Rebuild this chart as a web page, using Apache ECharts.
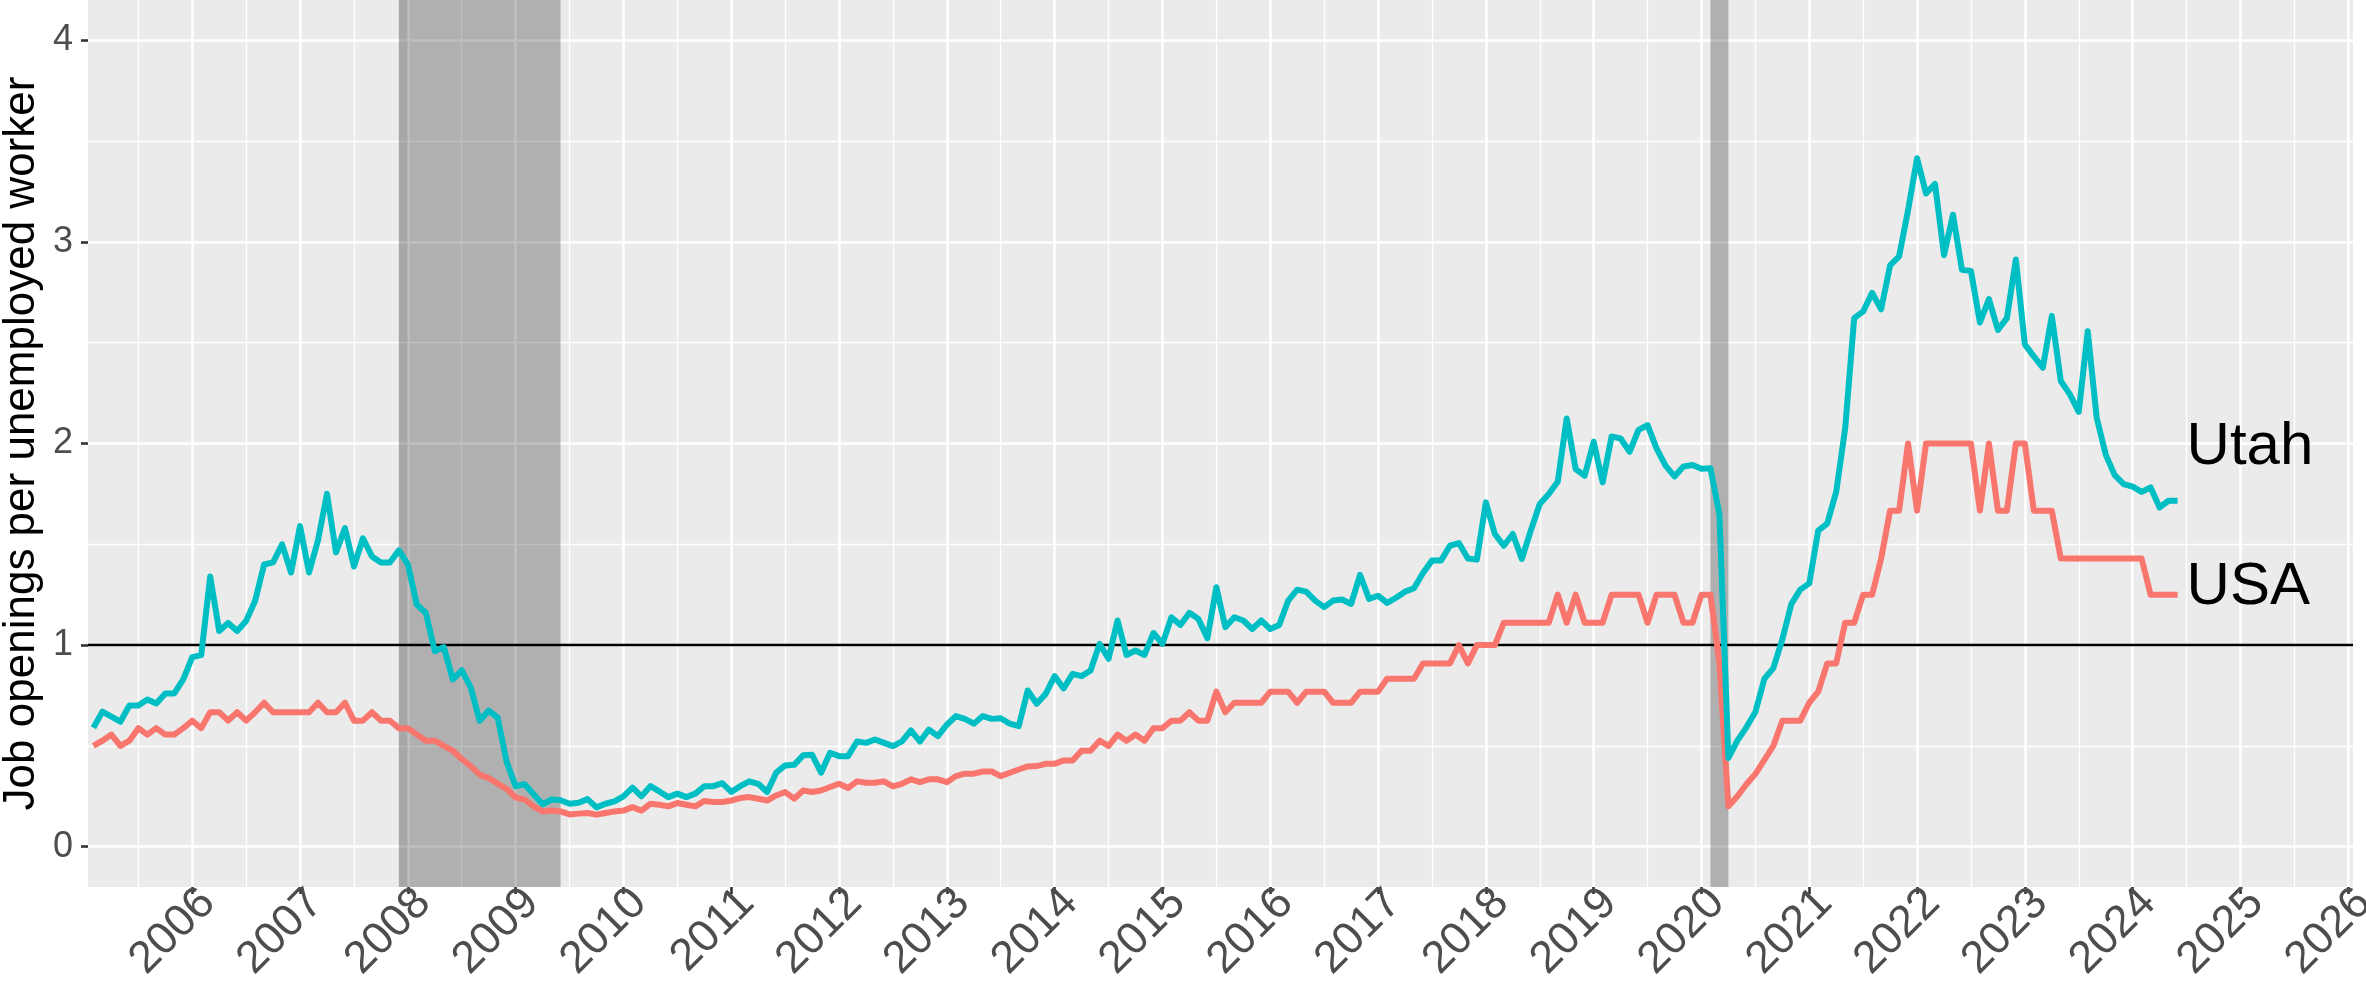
<!DOCTYPE html>
<html>
<head>
<meta charset="utf-8">
<script src="https://cdn.jsdelivr.net/npm/echarts@6/dist/echarts.min.js"></script>
<style>
  html, body { margin: 0; padding: 0; background: #fff; }
  #chart { width: 2366px; height: 994px; }
</style>
</head>
<body>
<div id="chart"></div>
<script>
// monthly series, first value = Feb 2005
const startYear = 2005
const startMonth = 2

const utah = [
  0.59, 0.67, 0.645, 0.62, 0.70, 0.70, 0.73, 0.71, 0.76, 0.76, 0.83,
  0.94, 0.95, 1.34, 1.07, 1.11, 1.07, 1.12, 1.22, 1.40, 1.41, 1.50, 1.36,
  1.59, 1.36, 1.52, 1.75, 1.46, 1.58, 1.39, 1.53, 1.44, 1.41, 1.41, 1.47,
  1.40, 1.20, 1.16, 0.97, 0.99, 0.83, 0.875, 0.79, 0.625, 0.675, 0.64, 0.42,
  0.30, 0.31, 0.26, 0.21, 0.234, 0.23, 0.213, 0.218, 0.236, 0.195, 0.213, 0.225,
  0.25, 0.293, 0.25, 0.30, 0.274, 0.246, 0.263, 0.246, 0.263, 0.30, 0.30, 0.315,
  0.272, 0.30, 0.324, 0.312, 0.271, 0.367, 0.403, 0.406, 0.453, 0.456, 0.367, 0.466,
  0.449, 0.449, 0.522, 0.515, 0.532, 0.515, 0.499, 0.522, 0.577, 0.522, 0.581, 0.548,
  0.605, 0.648, 0.634, 0.61, 0.648, 0.634, 0.637, 0.61, 0.598, 0.775, 0.709, 0.758,
  0.846, 0.785, 0.857, 0.846, 0.874, 1.006, 0.932, 1.122, 0.951, 0.973, 0.951, 1.06,
  1.006, 1.138, 1.10, 1.16, 1.13, 1.034, 1.287, 1.089, 1.138, 1.122, 1.08, 1.122,
  1.08, 1.10, 1.221, 1.275, 1.265, 1.221, 1.188, 1.221, 1.226, 1.204, 1.348, 1.229,
  1.245, 1.209, 1.235, 1.265, 1.282, 1.358, 1.419, 1.419, 1.493, 1.506, 1.43, 1.424,
  1.708, 1.551, 1.493, 1.551, 1.427, 1.568, 1.70, 1.749, 1.81, 2.124, 1.873, 1.84,
  2.009, 1.807, 2.035, 2.025, 1.959, 2.068, 2.091, 1.976, 1.89, 1.837, 1.886, 1.893,
  1.875, 1.877, 1.65, 0.44, 0.526, 0.592, 0.668, 0.832, 0.886, 1.028, 1.203, 1.275,
  1.306, 1.568, 1.603, 1.76, 2.076, 2.622, 2.655, 2.747, 2.666, 2.884, 2.928, 3.157,
  3.415, 3.24, 3.288, 2.934, 3.135, 2.862, 2.856, 2.60, 2.716, 2.563, 2.622, 2.913,
  2.491, 2.432, 2.376, 2.633, 2.31, 2.245, 2.157, 2.557, 2.127, 1.945, 1.843, 1.799,
  1.786, 1.76, 1.782, 1.683, 1.716, 1.716
]

const usa = [
  0.50, 0.526, 0.556, 0.50, 0.526, 0.588, 0.556, 0.588, 0.556, 0.556, 0.588,
  0.625, 0.588, 0.667, 0.667, 0.625, 0.667, 0.625, 0.667, 0.714, 0.667, 0.667, 0.667,
  0.667, 0.667, 0.714, 0.667, 0.667, 0.714, 0.625, 0.625, 0.667, 0.625, 0.625, 0.588,
  0.588, 0.556, 0.526, 0.526, 0.50, 0.476, 0.435, 0.40, 0.357, 0.34, 0.313, 0.286,
  0.244, 0.233, 0.20, 0.175, 0.179, 0.175, 0.16, 0.164, 0.167, 0.159, 0.167, 0.175,
  0.179, 0.196, 0.179, 0.213, 0.208, 0.20, 0.217, 0.208, 0.20, 0.227, 0.222, 0.222,
  0.229, 0.241, 0.246, 0.238, 0.229, 0.254, 0.271, 0.238, 0.279, 0.271, 0.279, 0.296,
  0.312, 0.291, 0.324, 0.317, 0.317, 0.324, 0.299, 0.312, 0.334, 0.32, 0.334, 0.334,
  0.32, 0.35, 0.362, 0.362, 0.373, 0.373, 0.35, 0.367, 0.383, 0.398, 0.40, 0.411,
  0.411, 0.428, 0.428, 0.476, 0.476, 0.526, 0.50, 0.556, 0.526, 0.556, 0.526, 0.588,
  0.588, 0.625, 0.625, 0.667, 0.625, 0.625, 0.769, 0.667, 0.714, 0.714, 0.714, 0.714,
  0.769, 0.769, 0.769, 0.714, 0.769, 0.769, 0.769, 0.714, 0.714, 0.714, 0.769, 0.769,
  0.769, 0.833, 0.833, 0.833, 0.833, 0.909, 0.909, 0.909, 0.909, 1.0, 0.909, 1.0,
  1.0, 1.0, 1.111, 1.111, 1.111, 1.111, 1.111, 1.111, 1.25, 1.111, 1.25, 1.111,
  1.111, 1.111, 1.25, 1.25, 1.25, 1.25, 1.111, 1.25, 1.25, 1.25, 1.111, 1.111,
  1.25, 1.25, 0.91, 0.20, 0.25, 0.31, 0.36, 0.43, 0.50, 0.625, 0.625, 0.625,
  0.714, 0.769, 0.909, 0.909, 1.111, 1.111, 1.25, 1.25, 1.429, 1.667, 1.667, 2.0,
  1.667, 2.0, 2.0, 2.0, 2.0, 2.0, 2.0, 1.667, 2.0, 1.667, 1.667, 2.0,
  2.0, 1.667, 1.667, 1.667, 1.429, 1.429, 1.429, 1.429, 1.429, 1.429, 1.429, 1.429,
  1.429, 1.429, 1.25, 1.25, 1.25, 1.25
]

const yearTicks = [2006, 2007, 2008, 2009, 2010, 2011, 2012, 2013, 2014, 2015, 2016,
  2017, 2018, 2019, 2020, 2021, 2022, 2023, 2024, 2025, 2026]
const yTicks = [0, 1, 2, 3, 4]
const yMinor = [0.5, 1.5, 2.5, 3.5]
// recessions: [start year, start month, end year, end month]
const recessions = [[2007, 12, 2009, 6], [2020, 2, 2020, 4]]
// slightly darker first month of the 2007-09 band
const recessionEdge = [[2007, 12, 2008, 1]]
const refLevel = 1
// end labels: name, x (decimal year), y
const endLabels = [['Utah', 2024.5, 1.98], ['USA', 2024.5, 1.285]]

const xMinor = []
for (let i = 0; i < yearTicks.length; i++) xMinor.push(yearTicks[i] - 0.5)

function decYear(y, m) { return y + (m - 1) / 12 }
function toPoints(values) {
  let pts = []
  for (let i = 0; i < values.length; i++) {
    pts.push([decYear(startYear, startMonth + i), values[i]])
  }
  return pts
}

const font = '"Liberation Sans", Arial, Helvetica, sans-serif'
const gridLines = []
xMinor.forEach(v => gridLines.push({xAxis: v, lineStyle: {color: '#fff', width: 1.3, type: 'solid'}}))
yMinor.forEach(v => gridLines.push({yAxis: v, lineStyle: {color: '#fff', width: 1.3, type: 'solid'}}))
yearTicks.forEach(v => gridLines.push({xAxis: v, lineStyle: {color: '#fff', width: 2.6, type: 'solid'}}))
yTicks.forEach(v => gridLines.push({yAxis: v, lineStyle: {color: '#fff', width: 2.6, type: 'solid'}}))

const bands = recessions.map(r => [{xAxis: decYear(r[0], r[1])}, {xAxis: decYear(r[2], r[3])}])
const edgeBands = recessionEdge.map(r => [{xAxis: decYear(r[0], r[1])}, {xAxis: decYear(r[2], r[3])}])

function endLabel(idx) {
  const l = endLabels[idx]
  return {
    silent: true,
    z: 6,
    symbol: 'circle',
    symbolSize: 0,
    label: {
      show: true, position: 'right', distance: 0,
      formatter: l[0], fontSize: 60, color: '#000', fontFamily: font
    },
    data: [{coord: [l[1], l[2]]}]
  }
}

const chart = echarts.init(document.getElementById('chart'), null, {renderer: 'canvas'})
const option = {
  animation: false,
  backgroundColor: '#ffffff',
  textStyle: {fontFamily: font},
  grid: {
    left: 88, right: 13, top: 0, bottom: 107,
    show: true, backgroundColor: '#EBEBEB', borderWidth: 0,
    containLabel: false, outerBoundsMode: 'none'
  },
  xAxis: {
    type: 'value',
    min: 2005.033,
    max: 2026.044,
    axisLine: {show: false, onZero: false},
    splitLine: {show: false},
    axisTick: {show: true, customValues: yearTicks, length: 7, lineStyle: {color: '#333333', width: 2.6}},
    axisLabel: {
      customValues: yearTicks, rotate: 45, fontSize: 45, color: '#4D4D4D', margin: -7,
      verticalAlign: 'top', fontFamily: font,
      formatter: v => String(Math.round(v))
    }
  },
  yAxis: {
    type: 'value',
    min: -0.2,
    max: 4.2,
    name: 'Job openings per unemployed worker',
    nameLocation: 'middle',
    nameRotate: 90,
    nameGap: 44,
    nameMoveOverlap: false,
    nameTextStyle: {fontSize: 44, color: '#000', fontFamily: font},
    axisLine: {show: false, onZero: false},
    splitLine: {show: false},
    axisTick: {show: true, customValues: yTicks, length: 7, lineStyle: {color: '#333333', width: 2.6}},
    axisLabel: {customValues: yTicks, fontSize: 36, color: '#4D4D4D', margin: 15, fontFamily: font}
  },
  series: [
    {
      name: 'grid',
      type: 'line',
      data: [],
      silent: true,
      markLine: {silent: true, z: 1, symbol: 'none', label: {show: false}, data: gridLines}
    },
    {
      name: 'recession',
      type: 'line',
      data: [],
      silent: true,
      markArea: {silent: true, z: 2, itemStyle: {color: 'rgba(0,0,0,0.25)'}, label: {show: false}, data: bands}
    },
    {
      name: 'recessionEdge',
      type: 'line',
      data: [],
      silent: true,
      markArea: {silent: true, z: 2, itemStyle: {color: 'rgba(0,0,0,0.05)'}, label: {show: false}, data: edgeBands}
    },
    {
      name: 'one',
      type: 'line',
      data: [],
      silent: true,
      markLine: {
        silent: true, z: 3, symbol: 'none', label: {show: false},
        lineStyle: {color: '#000', width: 2.3, type: 'solid'},
        data: [{yAxis: refLevel}]
      }
    },
    {
      name: 'USA',
      type: 'line',
      z: 4,
      data: toPoints(usa),
      showSymbol: false,
      symbol: 'none',
      lineStyle: {color: '#F8766D', width: 6, cap: 'butt', join: 'round'},
      itemStyle: {color: '#F8766D'},
      markPoint: endLabel(1)
    },
    {
      name: 'Utah',
      type: 'line',
      z: 5,
      data: toPoints(utah),
      showSymbol: false,
      symbol: 'none',
      lineStyle: {color: '#00BFC4', width: 6, cap: 'butt', join: 'round'},
      itemStyle: {color: '#00BFC4'},
      markPoint: endLabel(0)
    }
  ]
}
chart.setOption(option)
</script>
</body>
</html>
